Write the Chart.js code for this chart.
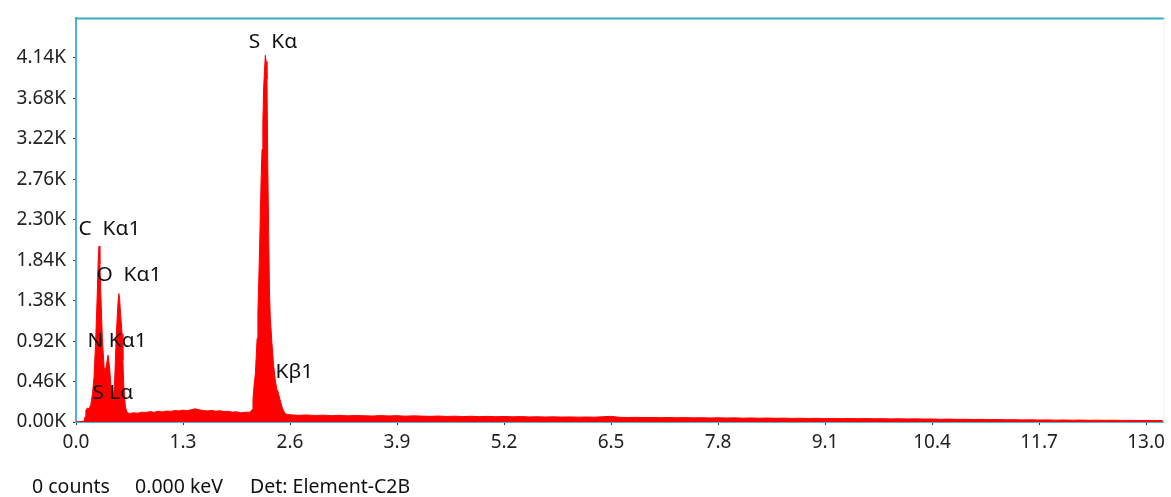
<!DOCTYPE html>
<html>
<head>
<meta charset="utf-8">
<style>
    html, body { margin: 0; padding: 0; background: #fff; }
    #wrap { position: relative; width: 1171px; height: 497px; }
</style>
<script src="https://cdn.jsdelivr.net/npm/chart.js"></script>
</head>
<body>
<div id="wrap"><canvas id="edsChart" width="1171" height="497"></canvas></div>
<script>
// light elements region (C, N, O, S L)
const lightKeV = [0, 0.06, 0.10, 0.11, 0.12, 0.14, 0.16, 0.18, 0.20, 0.22, 0.24, 0.26, 0.27, 0.28, 0.29, 0.30, 0.32, 0.34, 0.35, 0.37, 0.39, 0.41, 0.43, 0.45, 0.47, 0.49, 0.51, 0.52, 0.53, 0.54, 0.56, 0.57, 0.58, 0.60, 0.62];
const lightCounts = [0, 5, 10, 60, 130, 160, 150, 200, 320, 520, 950, 1500, 1850, 2000, 1800, 1500, 950, 640, 560, 650, 760, 600, 330, 240, 480, 1000, 1350, 1460, 1400, 1250, 1000, 700, 420, 170, 110];

// background between O and S
const midKeV = [0.65, 0.70, 0.75, 0.80, 0.85, 0.90, 0.95, 1.00, 1.05, 1.10, 1.15, 1.20, 1.25, 1.30, 1.35, 1.40, 1.45, 1.50, 1.55, 1.60, 1.65, 1.70, 1.75, 1.80, 1.85, 1.90, 1.95, 2.00, 2.05, 2.10];
const midCounts = [95, 105, 100, 112, 108, 118, 110, 122, 115, 125, 120, 130, 126, 135, 128, 140, 150, 138, 130, 126, 132, 122, 128, 118, 122, 112, 116, 105, 110, 112];

// S K alpha / K beta
const sulfurKeV = [2.12, 2.14, 2.15, 2.16, 2.18, 2.20, 2.21, 2.22, 2.23, 2.24, 2.25, 2.26, 2.27, 2.28, 2.29, 2.30, 2.31, 2.32, 2.33, 2.34, 2.35, 2.36, 2.38, 2.40, 2.42, 2.44, 2.45, 2.46, 2.48, 2.50, 2.52, 2.54, 2.57];
const sulfurCounts = [115, 140, 250, 380, 560, 950, 1250, 1600, 1950, 2400, 2800, 3100, 3400, 3800, 4000, 4170, 4100, 3900, 2900, 2200, 1500, 1200, 900, 650, 480, 370, 360, 320, 250, 180, 130, 95, 85];

// high energy tail
const tailKeV = [2.6, 2.7, 2.8, 2.9, 3.0, 3.1, 3.2, 3.3, 3.4, 3.5, 3.6, 3.7, 3.8, 3.9, 4.0, 4.1, 4.2, 4.3, 4.4, 4.5, 4.6, 4.7, 4.8, 4.9, 5.0, 5.1, 5.2, 5.3, 5.4, 5.5, 5.6, 5.7, 5.8, 5.9, 6.0, 6.1, 6.2, 6.3, 6.4, 6.5, 6.6, 6.7, 6.8, 6.9, 7.0, 7.1, 7.2, 7.3, 7.4, 7.5, 7.6, 7.7, 7.8, 7.9, 8.0, 8.1, 8.2, 8.3, 8.4, 8.5, 8.6, 8.7, 8.8, 8.9, 9.0, 9.1, 9.2, 9.3, 9.4, 9.5, 9.6, 9.7, 9.8, 9.9, 10.0, 10.1, 10.2, 10.3, 10.4, 10.5, 10.6, 10.7, 10.8, 10.9, 11.0, 11.1, 11.2, 11.3, 11.4, 11.5, 11.6, 11.7, 11.8, 11.9, 12.0, 12.1, 12.2, 12.3, 12.4, 12.5, 12.6, 12.7, 12.8, 12.9, 13.0, 13.1, 13.2];
const tailCounts = [82, 76, 80, 74, 78, 72, 76, 70, 74, 71, 68, 73, 69, 72, 66, 70, 67, 64, 68, 63, 66, 62, 65, 61, 64, 60, 63, 59, 62, 58, 60, 57, 59, 56, 58, 55, 57, 55, 60, 64, 54, 51, 53, 50, 52, 49, 51, 48, 50, 47, 49, 46, 48, 45, 47, 44, 46, 43, 45, 42, 44, 41, 43, 40, 42, 39, 41, 38, 40, 37, 39, 36, 38, 35, 37, 34, 36, 33, 35, 31, 33, 30, 31, 28, 30, 27, 28, 25, 27, 24, 25, 22, 24, 21, 23, 20, 22, 19, 21, 19, 20, 18, 19, 17, 18, 17, 16];

const xTicks = [0, 1.3, 2.6, 3.9, 5.2, 6.5, 7.8, 9.1, 10.4, 11.7, 13.0];
const yTicks = [0, 460, 920, 1380, 1840, 2300, 2760, 3220, 3680, 4140];

const peakLabels = ["S  K\u03b1", "C  K\u03b11", "O  K\u03b11", "N K\u03b11", "S L\u03b1", "K\u03b21"];
const peakLabelKeV = [2.10, 0.03, 0.248, 0.139, 0.20, 2.424];
const peakLabelCounts = [4317, 2192, 1661, 915, 328, 565];

const statusText = ["0 counts", "0.000 keV", "Det: Element-C2B"];

(() => {
    const FONT = "'Noto Sans', 'Open Sans', sans-serif";
    const AXIS_BLUE = '#4db3d8';

    const allKeV = [].concat(lightKeV, midKeV, sulfurKeV, tailKeV);
    const allCounts = [].concat(lightCounts, midCounts, sulfurCounts, tailCounts);
    const points = allKeV.map((k, i) => ({ x: k, y: allCounts[i] }));

    const extras = {
        id: 'extras',
        afterDraw(chart) {
            const { ctx, chartArea, scales } = chart;
            ctx.save();
            // top + right frame
            ctx.strokeStyle = '#3aa9c4';
            ctx.lineWidth = 2;
            ctx.beginPath();
            ctx.moveTo(chartArea.left - 1, chartArea.top);
            ctx.lineTo(chartArea.right + 1, chartArea.top);
            ctx.stroke();
            ctx.strokeStyle = '#e4f3f8';
            ctx.lineWidth = 1;
            ctx.beginPath();
            ctx.moveTo(chartArea.right + 0.5, chartArea.top);
            ctx.lineTo(chartArea.right + 0.5, chartArea.bottom);
            ctx.stroke();

            // peak labels (source picture is a bit stretched sideways)
            ctx.fillStyle = '#111';
            ctx.font = '19px ' + FONT;
            ctx.textAlign = 'left';
            ctx.textBaseline = 'middle';
            peakLabels.forEach((t, i) => {
                ctx.save();
                ctx.translate(scales.x.getPixelForValue(peakLabelKeV[i]), scales.y.getPixelForValue(peakLabelCounts[i]));
                ctx.scale(1.1, 1);
                ctx.fillText(t, 0, 0);
                ctx.restore();
            });

            // status line
            ctx.font = '19.5px ' + FONT;
            const sx = [32, 135, 250];
            statusText.forEach((t, i) => ctx.fillText(t, sx[i], 487));
            ctx.restore();
        }
    };

    new Chart(document.getElementById('edsChart'), {
        type: 'line',
        data: {
            datasets: [{
                label: 'Counts',
                data: points,
                borderColor: '#ff0000',
                backgroundColor: '#ff0000',
                borderWidth: 1,
                pointRadius: 0,
                tension: 0,
                fill: 'origin'
            }]
        },
        options: {
            responsive: false,
            animation: false,
            layout: { padding: { left: 0, top: 16, right: 3, bottom: 0 } },
            plugins: { legend: { display: false }, tooltip: { enabled: false } },
            scales: {
                x: {
                    type: 'linear',
                    min: 0,
                    max: 13.21,
                    afterBuildTicks: s => { s.ticks = xTicks.map(v => ({ value: v })); },
                    afterFit: s => { s.height = 75; },
                    border: { color: AXIS_BLUE, width: 2 },
                    grid: { drawOnChartArea: false, drawTicks: true, tickLength: 3, color: '#333' },
                    ticks: {
                        color: '#222',
                        padding: 6,
                        maxRotation: 0,
                        autoSkip: false,
                        font: { family: FONT, size: 19 },
                        callback: v => Number(v).toFixed(1)
                    }
                },
                y: {
                    min: 0,
                    max: 4590,
                    afterBuildTicks: s => { s.ticks = yTicks.map(v => ({ value: v })); },
                    afterFit: s => { s.width = 76; },
                    border: { color: AXIS_BLUE, width: 2 },
                    grid: { drawOnChartArea: false, drawTicks: true, tickLength: 3, color: '#333' },
                    ticks: {
                        color: '#222',
                        padding: 7,
                        autoSkip: false,
                        font: { family: FONT, size: 19 },
                        callback: v => (v / 1000).toFixed(2) + 'K'
                    }
                }
            }
        },
        plugins: [extras]
    });
})();
</script>
</body>
</html>
